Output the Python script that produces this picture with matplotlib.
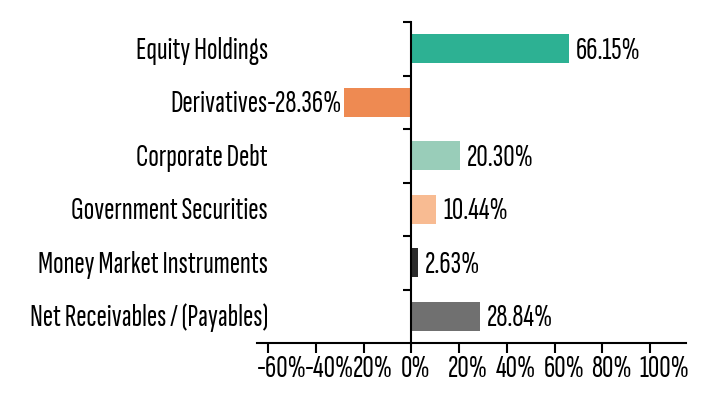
import matplotlib
matplotlib.use('Agg')
import matplotlib.pyplot as plt
import matplotlib.transforms as mtransforms

# Data
categories = ['Equity Holdings', 'Derivatives', 'Corporate Debt', 'Government Securities',
              'Money Market Instruments', 'Net Receivables / (Payables)']
values = [66.15, -28.36, 20.30, 10.44, 2.63, 28.84]
colors = ['#2db193', '#ee8a52', '#99cdb9', '#f8bb92', '#2a2a2a', '#707070']
xticks = [-60, -40, -20, 0, 20, 40, 60, 80, 100]
xtick_labels = ['-60%', '-40%', '20%', '0%', '20%', '40%', '60%', '80%', '100%']

plt.rcParams['font.family'] = ['Sofia Sans Extra Condensed', 'Saira ExtraCondensed', 'DejaVu Sans']
fs = 22.5
lw = 1.5

fig = plt.figure(figsize=(7.13, 3.98), dpi=100)
ax = fig.add_axes([257 / 713, 55 / 398, 429 / 713, 321 / 398])

y = list(range(len(categories)))
ax.barh(y, values, height=0.55, color=colors)
ax.set_xlim(-64.6, 115.0)
ax.set_ylim(len(categories) - 0.5, -0.5)

for s in ['top', 'right']:
    ax.spines[s].set_visible(False)
ax.spines['left'].set_position(('data', 0))
ax.spines['left'].set_linewidth(lw)
ax.spines['bottom'].set_linewidth(lw)

# ticks sit on the band boundaries
ax.set_yticks([i - 0.5 for i in range(len(categories))])
ax.set_yticklabels([])
ax.tick_params(axis='y', length=6, width=lw, direction='out')

ax.set_xticks(xticks)
ax.set_xticklabels(xtick_labels, fontsize=fs)
ax.tick_params(axis='x', length=7, width=lw, pad=1.5)
# labels start a little left of their tick, like the original
shift = mtransforms.ScaledTranslation(-11 / 100, 0, fig.dpi_scale_trans)
for lab in ax.get_xticklabels():
    lab.set_ha('left')
    lab.set_transform(lab.get_transform() + shift)

# category names, right aligned left of the plot
trans = mtransforms.blended_transform_factory(fig.transFigure, ax.transData)
for i, name in enumerate(categories):
    ax.text(268 / 713, i + 0.19, name, transform=trans, ha='right', va='baseline', fontsize=fs)

# value labels at the bar ends
for i, v in enumerate(values):
    if v >= 0:
        ax.text(v + 2.9, i + 0.19, f'{v:.2f}%', ha='left', va='baseline', fontsize=fs)
    else:
        ax.text(v - 0.4, i + 0.19, f'{v:.2f}%', ha='right', va='baseline', fontsize=fs)

fig.savefig('out.png', dpi=100)
